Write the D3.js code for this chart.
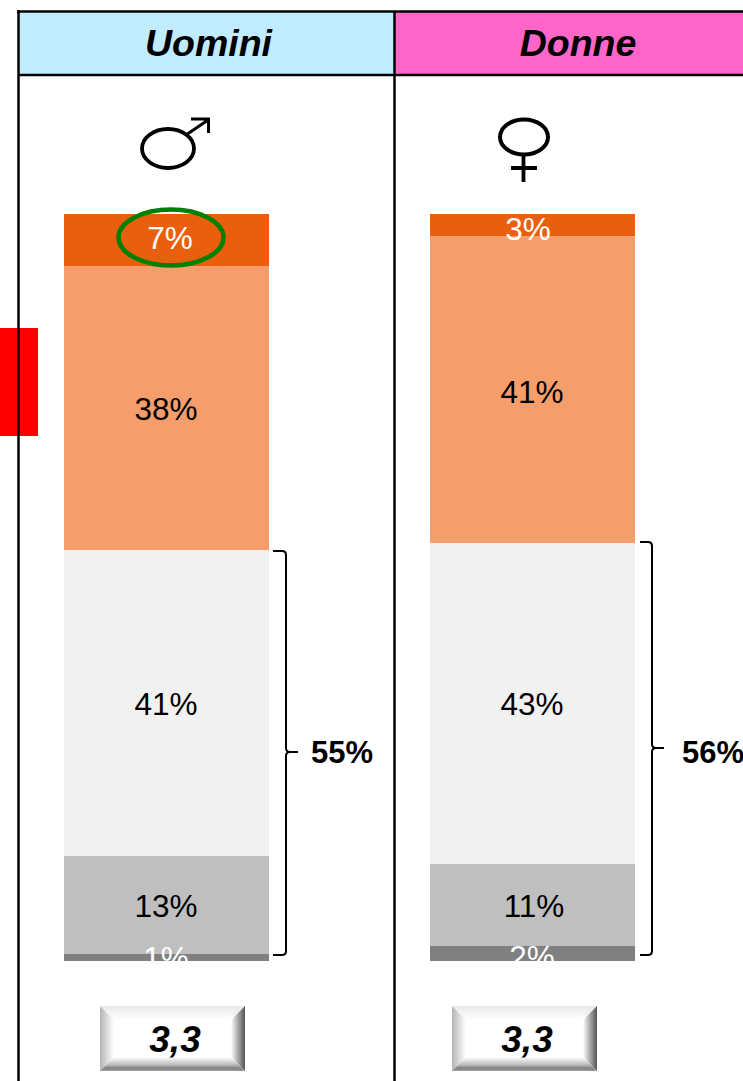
<!DOCTYPE html>
<html><head><meta charset="utf-8">
<script src="https://cdn.jsdelivr.net/npm/d3@7"></script>
<style>html,body{margin:0;padding:0;background:#fff}svg{display:block}text{font-family:"Liberation Sans",Arial,sans-serif}</style>
</head><body><svg id="c" width="743" height="1081"></svg>
<script>
const groups = ["Uomini", "Donne"];
const headerColors = ["#C1EBFF", "#FF66C8"];
const levels = ["a", "b", "c", "d", "e"];
const levelColors = ["#EA5F0E", "#F59E6C", "#F1F1F1", "#BFBFBF", "#808080"];
const labelColors = ["#fff", "#000", "#000", "#000", "#fff"];
const uomini = [7, 38, 41, 13, 1];
const donne = [3, 41, 43, 11, 2];
const bracketLabels = ["55%", "56%"];
const scores = ["3,3", "3,3"];

const svg = d3.select("#c");
const defs = svg.append("defs");
const series = [uomini, donne];
const y = d3.scaleLinear().domain([0, 100]).range([214, 961]);
const barX = d3.scaleOrdinal().domain(groups).range([64, 430]);
const barW = 205;
const colX = d3.scaleOrdinal().domain(groups).range([18, 394]);
const colW = d3.scaleOrdinal().domain(groups).range([376, 349]);
const txtX = d3.scaleOrdinal().domain(groups).range([166, 532]);

svg.append("rect").attr("x",0).attr("y",328).attr("width",38).attr("height",108).attr("fill","#FF0000");

svg.selectAll("rect.h").data(groups).join("rect").attr("class","h")
  .attr("x",d=>colX(d)).attr("y",12).attr("width",d=>colW(d)).attr("height",63)
  .attr("fill",(d,i)=>headerColors[i]);
svg.selectAll("text.h").data(groups).join("text").attr("class","h")
  .attr("x",(d,i)=>[208.5,578][i]).attr("y",56).attr("text-anchor","middle")
  .attr("font-size",37.5).attr("font-weight","bold").attr("font-style","italic").text(d=>d);

const frame = [[17,11.5,743,11.5],[18,75,743,75],[18.5,10,18.5,1081],[394.5,11,394.5,1081]];
svg.selectAll("line.f").data(frame).join("line").attr("class","f")
  .attr("x1",d=>d[0]).attr("y1",d=>d[1]).attr("x2",d=>d[2]).attr("y2",d=>d[3])
  .attr("stroke","#000").attr("stroke-width",2.5);

groups.forEach((g,gi)=>{
  const vals = series[gi];
  const cum = d3.cumsum(vals);
  const clipId = "clip"+gi;
  defs.append("clipPath").attr("id",clipId).append("rect")
    .attr("x",barX(g)).attr("y",y(0)-20).attr("width",barW).attr("height",y(100)-y(0)+20);
  const G = svg.append("g");
  G.selectAll("rect").data(vals).join("rect")
    .attr("shape-rendering","crispEdges")
    .attr("x",barX(g)).attr("width",barW)
    .attr("y",(d,i)=>y(cum[i]-d)).attr("height",d=>y(d)-y(0))
    .attr("fill",(d,i)=>levelColors[i]);
  G.append("g").attr("clip-path",`url(#${clipId})`).selectAll("text").data(vals).join("text")
    .attr("x",(d,i)=>txtX(g)+(gi===0?[4,0,0,0,0][i]:[-4,0,0,2,0][i]))
    .attr("text-anchor","middle").attr("font-size",31.5)
    .attr("y",(d,i)=>{
      const mid=(y(cum[i]-d)+y(cum[i]))/2;
      const nudge = gi===0 ? [-2.5,1,1,1,1][i] : [4,2,1,1,3][i];
      return mid+11+nudge;
    })
    .attr("fill",(d,i)=>labelColors[i]).text(d=>d+"%");
});

svg.append("ellipse").attr("cx",171).attr("cy",237.5).attr("rx",52.5).attr("ry",28)
  .attr("fill","none").attr("stroke","#008000").attr("stroke-width",4.5);

const brackets = [{x0:273,x:286,top:551,mid:752,bot:955,tip:298},{x0:640,x:652,top:542,mid:748,bot:955,tip:664}];
svg.selectAll("path.b").data(brackets).join("path").attr("class","b")
  .attr("fill","none").attr("stroke","#000").attr("stroke-width",2)
  .attr("d",b=>`M${b.x0},${b.top}H${b.x-4}Q${b.x},${b.top} ${b.x},${b.top+4}V${b.mid-4}Q${b.x},${b.mid} ${b.x+4},${b.mid}H${b.tip}M${b.x+4},${b.mid}Q${b.x},${b.mid} ${b.x},${b.mid+4}V${b.bot-4}Q${b.x},${b.bot} ${b.x-4},${b.bot}H${b.x0}`);
svg.selectAll("text.b").data(bracketLabels).join("text").attr("class","b")
  .attr("x",(d,i)=>[311,682][i]).attr("y",763).attr("font-size",31).attr("font-weight","bold").text(d=>d);

const male = svg.append("g").attr("fill","none").attr("stroke","#000");
male.append("ellipse").attr("cx",168).attr("cy",148.5).attr("rx",26).attr("ry",19.5).attr("stroke-width",3.8);
male.append("path").attr("d","M186,135L208,120M191,119H208.5V133").attr("stroke-width",3);
const female = svg.append("g").attr("fill","none").attr("stroke","#000");
female.append("ellipse").attr("cx",524).attr("cy",137).attr("rx",24).attr("ry",17.5).attr("stroke-width",4);
female.append("path").attr("d","M523.5,155V182M511,168H537").attr("stroke-width",3.8);

function grad(id,x1,y1,x2,y2,stops){
  const g=defs.append("linearGradient").attr("id",id).attr("gradientUnits","objectBoundingBox")
    .attr("x1",x1).attr("y1",y1).attr("x2",x2).attr("y2",y2);
  stops.forEach(s=>g.append("stop").attr("offset",s[0]).attr("stop-color",s[1]));
}
grad("bT",0,0,0,1,[[0,"#e8e8e8"],[1,"#ffffff"]]);
grad("bL",0,0,1,0,[[0,"#b4b4b4"],[1,"#ffffff"]]);
grad("bR",0,0,1,0,[[0,"#ffffff"],[0.5,"#a8a8a8"],[1,"#555555"]]);
grad("bB",0,0,0,1,[[0,"#ffffff"],[0.55,"#bdbdbd"],[0.8,"#808080"],[1,"#a0a0a0"]]);
const boxX = [100,452], boxY = 1006, boxW = 145, boxH = 65, bev = 14;
boxX.forEach((x,i)=>{
  const g=svg.append("g");
  const x2=x+boxW,y1=boxY,y2=boxY+boxH;
  g.append("rect").attr("x",x).attr("y",y1).attr("width",boxW).attr("height",boxH).attr("fill","#fff");
  g.append("polygon").attr("points",`${x},${y1} ${x2},${y1} ${x2-bev},${y1+bev} ${x+bev},${y1+bev}`).attr("fill","url(#bT)");
  g.append("polygon").attr("points",`${x},${y1} ${x+bev},${y1+bev} ${x+bev},${y2-bev} ${x},${y2}`).attr("fill","url(#bL)");
  g.append("polygon").attr("points",`${x2},${y1} ${x2},${y2} ${x2-bev},${y2-bev} ${x2-bev},${y1+bev}`).attr("fill","url(#bR)");
  g.append("polygon").attr("points",`${x},${y2} ${x+bev},${y2-bev} ${x2-bev},${y2-bev} ${x2},${y2}`).attr("fill","url(#bB)");
  g.append("text").attr("x",x+75).attr("y",1052).attr("text-anchor","middle")
    .attr("font-size",37).attr("font-weight","bold").attr("font-style","italic").text(scores[i]);
});
</script></body></html>
